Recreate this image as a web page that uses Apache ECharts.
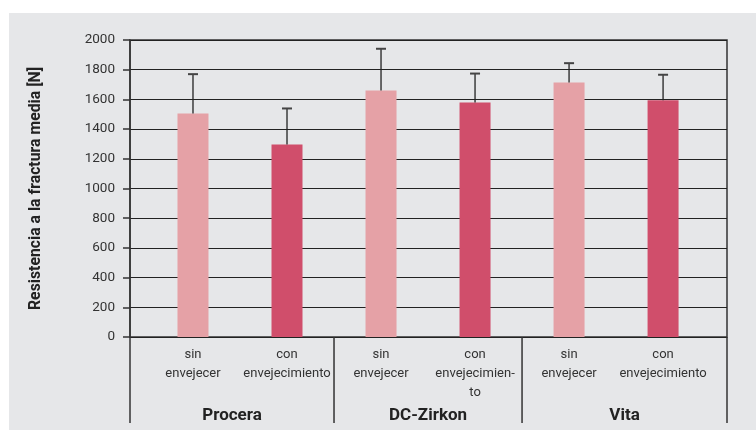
<!DOCTYPE html>
<html><head><meta charset="utf-8">
<script src="https://cdn.jsdelivr.net/npm/echarts@6/dist/echarts.min.js"></script>
<style>html,body{margin:0;padding:0;background:#fff;width:756px;height:430px;overflow:hidden}
#c{position:absolute;left:9px;top:13px;width:747px;height:417px;}</style>
</head><body><div id="c"></div>
<script>
const groups = ['Procera', 'DC-Zirkon', 'Vita'];
const subLabels = ['sin\nenvejecer', 'con\nenvejecimiento', 'sin\nenvejecer', 'con\nenvejecimien-\nto', 'sin\nenvejecer', 'con\nenvejecimiento'];
const positions = [0, 1, 2, 3, 4, 5];
const means = [1505, 1296, 1660, 1579, 1714, 1595];
const upper = [1770, 1539, 1941, 1774, 1844, 1766];
const groupOf = [0, 0, 1, 1, 2, 2];
const yMin = 0, yMax = 2000, yStep = 200;
const xRange = [-0.67, 5.68];
const colors = ['#e5a1a6', '#d04e6b'];

const bounds = groups.map((g, gi) => {
  const idx = positions.filter((p, i) => groupOf[i] === gi);
  const first = Math.min(...idx), last = Math.max(...idx);
  const start = gi === 0 ? xRange[0] : first - 0.5;
  const end = gi === groups.length - 1 ? xRange[1] : last + 0.5;
  return [start, end];
});

const FONT = 'Roboto, "Liberation Sans", sans-serif';
const chart = echarts.init(document.getElementById('c'));
chart.setOption({
  backgroundColor: '#e6e7e9',
  animation: false,
  grid: { left: 121, right: 29, top: 27, bottom: 93, show: true, borderColor: '#333', borderWidth: 1.5, backgroundColor: 'transparent' },
  xAxis: { type: 'value', min: xRange[0], max: xRange[1], show: false },
  yAxis: {
    type: 'value', min: yMin, max: yMax, interval: yStep,
    axisLine: { show: true, onZero: false, lineStyle: { color: '#333', width: 1.5 } },
    axisTick: { show: true, length: 7, lineStyle: { color: '#333', width: 1.5 } },
    axisLabel: { margin: 15, color: '#333', fontSize: 13.5, fontFamily: FONT, formatter: (v) => String(v) },
    splitLine: { lineStyle: { color: '#222', width: 1.2 } },
    name: 'Resistencia a la fractura media [N]', nameLocation: 'middle', nameGap: 86,
    nameTextStyle: { fontWeight: 'bold', fontSize: 15.8, color: '#222', fontFamily: FONT }
  },
  series: [
    {
      type: 'bar', barWidth: 31, z: 3,
      data: positions.map((p, i) => ({ value: [p, means[i]], itemStyle: { color: colors[i % 2] } }))
    },
    {
      type: 'custom', z: 4, silent: true,
      data: positions.map((p, i) => [p, means[i], upper[i]]),
      renderItem: function (params, api) {
        const x = api.value(0);
        const p0 = api.coord([x, api.value(1)]);
        const p1 = api.coord([x, api.value(2)]);
        return { type: 'group', children: [
          { type: 'line', shape: { x1: p0[0], y1: p0[1], x2: p1[0], y2: p1[1] }, style: { stroke: '#222', lineWidth: 1.3 } },
          { type: 'line', shape: { x1: p1[0] - 5, y1: p1[1], x2: p1[0] + 5, y2: p1[1] }, style: { stroke: '#444', lineWidth: 2 } }
        ]};
      }
    },
    {
      type: 'custom', z: 4, silent: true, clip: false,
      data: positions.map((p) => [p, yMin]),
      renderItem: function (params, api) {
        const pt = api.coord([api.value(0), api.value(1)]);
        return { type: 'text', x: pt[0], y: pt[1] + 8,
          style: { text: subLabels[params.dataIndex], align: 'center', verticalAlign: 'top', lineHeight: 19,
            fontSize: 13, fontFamily: FONT, fill: '#333' } };
      }
    },
    {
      type: 'custom', z: 4, silent: true, clip: false,
      data: bounds.map((b) => [(b[0] + b[1]) / 2, yMin, b[0], b[1]]),
      renderItem: function (params, api) {
        const mid = api.coord([api.value(0), api.value(1)]);
        const l = api.coord([api.value(2), api.value(1)]);
        const r = api.coord([api.value(3), api.value(1)]);
        const children = [
          { type: 'line', shape: { x1: r[0], y1: r[1], x2: r[0], y2: r[1] + 86 }, style: { stroke: '#333', lineWidth: 1.5 } },
          { type: 'text', x: mid[0], y: mid[1] + 79,
            style: { text: groups[params.dataIndex], align: 'center', verticalAlign: 'middle',
              fontSize: 17, fontWeight: 'bold', fontFamily: FONT, fill: '#222' } }
        ];
        if (params.dataIndex === 0) {
          children.push({ type: 'line', shape: { x1: l[0], y1: l[1], x2: l[0], y2: l[1] + 86 }, style: { stroke: '#333', lineWidth: 1.5 } });
        }
        return { type: 'group', children: children };
      }
    }
  ]
});
</script></body></html>
